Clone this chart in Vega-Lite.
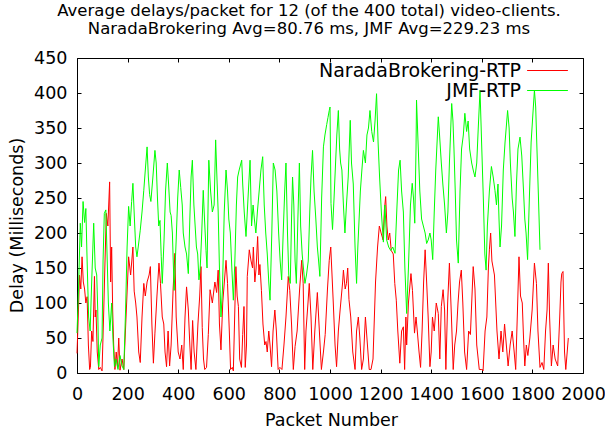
{
  "$schema": "https://vega.github.io/schema/vega-lite/v6.json",
  "width": 506,
  "height": 315,
  "autosize": {"type": "none"},
  "padding": {"left": 77, "top": 58, "right": 22, "bottom": 56},
  "background": "white",
  "title": {
    "text": ["Average delays/packet for 12 (of the 400 total) video-clients.", "NaradaBrokering Avg=80.76 ms, JMF Avg=229.23 ms"],
    "font": "DejaVu Sans",
    "fontSize": 16.5,
    "fontWeight": "normal",
    "color": "black",
    "lineHeight": 18,
    "anchor": "middle",
    "frame": "group",
    "baseline": "bottom",
    "offset": 21,
    "dx": -21,
    "dy": 25
  },
  "config": {
    "view": {"stroke": "black", "strokeWidth": 1},
    "axis": {
      "grid": false,
      "domain": false,
      "tickColor": "black",
      "tickWidth": 1,
      "tickSize": -4,
      "labelFont": "DejaVu Sans",
      "labelFontSize": 17.5,
      "labelColor": "black",
      "titleFont": "DejaVu Sans",
      "titleFontSize": 17.5,
      "titleFontWeight": "normal",
      "titleColor": "black"
    }
  },
  "datasets": {
    "narada": [
      {"packet":0,"delay":28},{"packet":5,"delay":80},{"packet":10,"delay":140},{"packet":15,"delay":120},{"packet":20,"delay":166},{"packet":25,"delay":130},{"packet":30,"delay":120},{"packet":35,"delay":100},{"packet":40,"delay":109},{"packet":45,"delay":40},{"packet":50,"delay":5},{"packet":53,"delay":8},{"packet":58,"delay":60},{"packet":63,"delay":45},{"packet":69,"delay":138},{"packet":72,"delay":80},{"packet":75,"delay":90},{"packet":80,"delay":30},{"packet":86,"delay":5},{"packet":92,"delay":8},{"packet":99,"delay":3},{"packet":105,"delay":80},{"packet":110,"delay":150},{"packet":116,"delay":228},{"packet":122,"delay":210},{"packet":129,"delay":273},{"packet":133,"delay":130},{"packet":137,"delay":180},{"packet":141,"delay":90},{"packet":145,"delay":40},{"packet":150,"delay":5},{"packet":155,"delay":30},{"packet":160,"delay":8},{"packet":165,"delay":50},{"packet":170,"delay":4},{"packet":178,"delay":20},{"packet":185,"delay":5},{"packet":195,"delay":90},{"packet":204,"delay":166},{"packet":212,"delay":140},{"packet":221,"delay":180},{"packet":226,"delay":117},{"packet":232,"delay":100},{"packet":237,"delay":80},{"packet":244,"delay":30},{"packet":250,"delay":15},{"packet":257,"delay":80},{"packet":264,"delay":128},{"packet":270,"delay":110},{"packet":277,"delay":130},{"packet":285,"delay":140},{"packet":290,"delay":152},{"packet":296,"delay":70},{"packet":302,"delay":14},{"packet":308,"delay":57},{"packet":316,"delay":110},{"packet":324,"delay":157},{"packet":330,"delay":128},{"packet":337,"delay":80},{"packet":343,"delay":70},{"packet":348,"delay":30},{"packet":354,"delay":9},{"packet":360,"delay":60},{"packet":366,"delay":10},{"packet":372,"delay":40},{"packet":380,"delay":120},{"packet":387,"delay":171},{"packet":392,"delay":80},{"packet":400,"delay":30},{"packet":407,"delay":20},{"packet":414,"delay":40},{"packet":420,"delay":5},{"packet":427,"delay":80},{"packet":433,"delay":123},{"packet":440,"delay":90},{"packet":446,"delay":40},{"packet":451,"delay":5},{"packet":457,"delay":75},{"packet":463,"delay":30},{"packet":470,"delay":5},{"packet":478,"delay":70},{"packet":485,"delay":110},{"packet":490,"delay":152},{"packet":495,"delay":65},{"packet":500,"delay":20},{"packet":505,"delay":5},{"packet":512,"delay":8},{"packet":519,"delay":55},{"packet":526,"delay":119},{"packet":535,"delay":100},{"packet":545,"delay":130},{"packet":552,"delay":115},{"packet":558,"delay":147},{"packet":563,"delay":70},{"packet":569,"delay":33},{"packet":576,"delay":100},{"packet":589,"delay":161},{"packet":595,"delay":128},{"packet":602,"delay":60},{"packet":607,"delay":5},{"packet":614,"delay":8},{"packet":618,"delay":3},{"packet":628,"delay":152},{"packet":633,"delay":110},{"packet":638,"delay":95},{"packet":643,"delay":20},{"packet":650,"delay":8},{"packet":655,"delay":55},{"packet":660,"delay":95},{"packet":665,"delay":8},{"packet":670,"delay":40},{"packet":673,"delay":138},{"packet":681,"delay":176},{"packet":688,"delay":160},{"packet":694,"delay":150},{"packet":697,"delay":180},{"packet":703,"delay":130},{"packet":708,"delay":150},{"packet":714,"delay":195},{"packet":719,"delay":140},{"packet":723,"delay":155},{"packet":729,"delay":118},{"packet":735,"delay":70},{"packet":742,"delay":40},{"packet":747,"delay":45},{"packet":752,"delay":30},{"packet":758,"delay":60},{"packet":763,"delay":40},{"packet":769,"delay":9},{"packet":775,"delay":60},{"packet":782,"delay":90},{"packet":788,"delay":60},{"packet":795,"delay":5},{"packet":802,"delay":8},{"packet":810,"delay":5},{"packet":818,"delay":40},{"packet":826,"delay":80},{"packet":835,"delay":138},{"packet":841,"delay":118},{"packet":848,"delay":70},{"packet":855,"delay":5},{"packet":862,"delay":38},{"packet":870,"delay":60},{"packet":880,"delay":120},{"packet":888,"delay":161},{"packet":894,"delay":128},{"packet":900,"delay":5},{"packet":905,"delay":60},{"packet":913,"delay":100},{"packet":918,"delay":128},{"packet":925,"delay":80},{"packet":932,"delay":5},{"packet":940,"delay":60},{"packet":950,"delay":115},{"packet":958,"delay":60},{"packet":966,"delay":5},{"packet":974,"delay":30},{"packet":981,"delay":55},{"packet":990,"delay":120},{"packet":997,"delay":161},{"packet":1003,"delay":180},{"packet":1008,"delay":140},{"packet":1013,"delay":100},{"packet":1020,"delay":40},{"packet":1026,"delay":9},{"packet":1033,"delay":60},{"packet":1040,"delay":90},{"packet":1050,"delay":130},{"packet":1053,"delay":147},{"packet":1060,"delay":120},{"packet":1065,"delay":128},{"packet":1070,"delay":150},{"packet":1075,"delay":105},{"packet":1082,"delay":80},{"packet":1090,"delay":30},{"packet":1099,"delay":5},{"packet":1105,"delay":60},{"packet":1112,"delay":80},{"packet":1118,"delay":50},{"packet":1125,"delay":5},{"packet":1132,"delay":20},{"packet":1140,"delay":80},{"packet":1148,"delay":40},{"packet":1155,"delay":5},{"packet":1162,"delay":5},{"packet":1170,"delay":20},{"packet":1180,"delay":130},{"packet":1188,"delay":180},{"packet":1195,"delay":210},{"packet":1202,"delay":200},{"packet":1210,"delay":190},{"packet":1215,"delay":233},{"packet":1220,"delay":252},{"packet":1225,"delay":210},{"packet":1230,"delay":190},{"packet":1236,"delay":200},{"packet":1242,"delay":175},{"packet":1250,"delay":170},{"packet":1256,"delay":128},{"packet":1262,"delay":104},{"packet":1268,"delay":60},{"packet":1276,"delay":14},{"packet":1283,"delay":60},{"packet":1290,"delay":66},{"packet":1295,"delay":5},{"packet":1300,"delay":80},{"packet":1303,"delay":40},{"packet":1310,"delay":100},{"packet":1320,"delay":142},{"packet":1326,"delay":118},{"packet":1334,"delay":57},{"packet":1340,"delay":80},{"packet":1345,"delay":60},{"packet":1352,"delay":30},{"packet":1358,"delay":8},{"packet":1364,"delay":60},{"packet":1370,"delay":130},{"packet":1376,"delay":176},{"packet":1382,"delay":130},{"packet":1388,"delay":80},{"packet":1395,"delay":9},{"packet":1400,"delay":30},{"packet":1405,"delay":80},{"packet":1412,"delay":60},{"packet":1420,"delay":100},{"packet":1428,"delay":85},{"packet":1434,"delay":20},{"packet":1440,"delay":95},{"packet":1447,"delay":119},{"packet":1453,"delay":90},{"packet":1458,"delay":5},{"packet":1465,"delay":100},{"packet":1472,"delay":157},{"packet":1480,"delay":80},{"packet":1487,"delay":5},{"packet":1493,"delay":40},{"packet":1500,"delay":60},{"packet":1506,"delay":100},{"packet":1512,"delay":130},{"packet":1519,"delay":147},{"packet":1525,"delay":100},{"packet":1532,"delay":30},{"packet":1540,"delay":5},{"packet":1548,"delay":60},{"packet":1555,"delay":55},{"packet":1566,"delay":152},{"packet":1573,"delay":120},{"packet":1580,"delay":40},{"packet":1590,"delay":5},{"packet":1600,"delay":5},{"packet":1605,"delay":3},{"packet":1613,"delay":60},{"packet":1620,"delay":80},{"packet":1626,"delay":150},{"packet":1630,"delay":176},{"packet":1635,"delay":200},{"packet":1640,"delay":160},{"packet":1650,"delay":140},{"packet":1660,"delay":60},{"packet":1668,"delay":20},{"packet":1676,"delay":60},{"packet":1683,"delay":30},{"packet":1690,"delay":70},{"packet":1697,"delay":40},{"packet":1704,"delay":10},{"packet":1712,"delay":40},{"packet":1720,"delay":60},{"packet":1728,"delay":30},{"packet":1734,"delay":5},{"packet":1741,"delay":90},{"packet":1747,"delay":166},{"packet":1753,"delay":110},{"packet":1760,"delay":100},{"packet":1765,"delay":50},{"packet":1770,"delay":10},{"packet":1776,"delay":40},{"packet":1782,"delay":25},{"packet":1790,"delay":50},{"packet":1799,"delay":90},{"packet":1808,"delay":157},{"packet":1816,"delay":128},{"packet":1822,"delay":60},{"packet":1830,"delay":8},{"packet":1838,"delay":15},{"packet":1845,"delay":5},{"packet":1852,"delay":60},{"packet":1858,"delay":90},{"packet":1863,"delay":157},{"packet":1868,"delay":80},{"packet":1875,"delay":10},{"packet":1882,"delay":40},{"packet":1890,"delay":20},{"packet":1900,"delay":10},{"packet":1908,"delay":80},{"packet":1913,"delay":130},{"packet":1916,"delay":142},{"packet":1921,"delay":145},{"packet":1927,"delay":30},{"packet":1932,"delay":5},{"packet":1942,"delay":50}
    ],
    "jmf": [
      {"packet":0,"delay":57},{"packet":6,"delay":120},{"packet":13,"delay":214},{"packet":18,"delay":180},{"packet":24,"delay":245},{"packet":30,"delay":215},{"packet":35,"delay":235},{"packet":40,"delay":160},{"packet":46,"delay":80},{"packet":52,"delay":60},{"packet":58,"delay":130},{"packet":66,"delay":214},{"packet":72,"delay":150},{"packet":78,"delay":140},{"packet":82,"delay":90},{"packet":86,"delay":9},{"packet":92,"delay":40},{"packet":99,"delay":50},{"packet":103,"delay":160},{"packet":108,"delay":228},{"packet":114,"delay":233},{"packet":118,"delay":180},{"packet":124,"delay":100},{"packet":130,"delay":60},{"packet":137,"delay":100},{"packet":142,"delay":50},{"packet":148,"delay":9},{"packet":155,"delay":20},{"packet":162,"delay":5},{"packet":170,"delay":25},{"packet":178,"delay":10},{"packet":185,"delay":5},{"packet":192,"delay":90},{"packet":198,"delay":180},{"packet":204,"delay":238},{"packet":210,"delay":210},{"packet":216,"delay":245},{"packet":221,"delay":271},{"packet":227,"delay":220},{"packet":232,"delay":180},{"packet":237,"delay":166},{"packet":242,"delay":180},{"packet":250,"delay":204},{"packet":257,"delay":230},{"packet":264,"delay":261},{"packet":270,"delay":290},{"packet":277,"delay":323},{"packet":282,"delay":280},{"packet":287,"delay":255},{"packet":292,"delay":245},{"packet":300,"delay":280},{"packet":308,"delay":318},{"packet":313,"delay":300},{"packet":318,"delay":250},{"packet":323,"delay":210},{"packet":328,"delay":218},{"packet":333,"delay":166},{"packet":337,"delay":128},{"packet":344,"delay":190},{"packet":350,"delay":260},{"packet":357,"delay":300},{"packet":362,"delay":270},{"packet":368,"delay":230},{"packet":372,"delay":225},{"packet":377,"delay":200},{"packet":384,"delay":118},{"packet":392,"delay":190},{"packet":398,"delay":250},{"packet":404,"delay":290},{"packet":410,"delay":265},{"packet":416,"delay":240},{"packet":420,"delay":200},{"packet":427,"delay":180},{"packet":433,"delay":170},{"packet":440,"delay":142},{"packet":446,"delay":220},{"packet":451,"delay":280},{"packet":456,"delay":304},{"packet":462,"delay":240},{"packet":467,"delay":210},{"packet":472,"delay":180},{"packet":477,"delay":170},{"packet":482,"delay":133},{"packet":487,"delay":150},{"packet":493,"delay":200},{"packet":499,"delay":261},{"packet":504,"delay":220},{"packet":510,"delay":175},{"packet":514,"delay":150},{"packet":521,"delay":304},{"packet":528,"delay":260},{"packet":535,"delay":230},{"packet":542,"delay":240},{"packet":548,"delay":333},{"packet":553,"delay":280},{"packet":558,"delay":230},{"packet":563,"delay":150},{"packet":569,"delay":80},{"packet":575,"delay":120},{"packet":582,"delay":230},{"packet":589,"delay":290},{"packet":595,"delay":260},{"packet":600,"delay":220},{"packet":606,"delay":200},{"packet":612,"delay":150},{"packet":618,"delay":104},{"packet":624,"delay":160},{"packet":630,"delay":240},{"packet":635,"delay":280},{"packet":641,"delay":290},{"packet":651,"delay":304},{"packet":655,"delay":270},{"packet":661,"delay":230},{"packet":668,"delay":195},{"packet":676,"delay":250},{"packet":684,"delay":304},{"packet":690,"delay":210},{"packet":696,"delay":240},{"packet":701,"delay":220},{"packet":707,"delay":200},{"packet":713,"delay":230},{"packet":720,"delay":260},{"packet":727,"delay":290},{"packet":734,"delay":309},{"packet":740,"delay":240},{"packet":746,"delay":200},{"packet":752,"delay":170},{"packet":758,"delay":130},{"packet":763,"delay":104},{"packet":770,"delay":200},{"packet":776,"delay":300},{"packet":783,"delay":290},{"packet":790,"delay":260},{"packet":797,"delay":200},{"packet":803,"delay":160},{"packet":809,"delay":133},{"packet":815,"delay":200},{"packet":821,"delay":260},{"packet":826,"delay":300},{"packet":832,"delay":200},{"packet":837,"delay":140},{"packet":843,"delay":128},{"packet":848,"delay":220},{"packet":852,"delay":280},{"packet":857,"delay":240},{"packet":862,"delay":160},{"packet":867,"delay":128},{"packet":873,"delay":220},{"packet":879,"delay":300},{"packet":884,"delay":210},{"packet":890,"delay":170},{"packet":895,"delay":150},{"packet":901,"delay":128},{"packet":907,"delay":140},{"packet":914,"delay":160},{"packet":920,"delay":230},{"packet":925,"delay":280},{"packet":931,"delay":318},{"packet":937,"delay":260},{"packet":944,"delay":220},{"packet":950,"delay":180},{"packet":955,"delay":160},{"packet":960,"delay":138},{"packet":967,"delay":250},{"packet":974,"delay":323},{"packet":980,"delay":340},{"packet":987,"delay":355},{"packet":992,"delay":365},{"packet":997,"delay":375},{"packet":1000,"delay":380},{"packet":1004,"delay":242},{"packet":1010,"delay":205},{"packet":1016,"delay":250},{"packet":1022,"delay":300},{"packet":1027,"delay":340},{"packet":1033,"delay":375},{"packet":1038,"delay":320},{"packet":1042,"delay":300},{"packet":1047,"delay":290},{"packet":1053,"delay":240},{"packet":1059,"delay":200},{"packet":1065,"delay":240},{"packet":1072,"delay":280},{"packet":1080,"delay":361},{"packet":1085,"delay":300},{"packet":1092,"delay":270},{"packet":1099,"delay":180},{"packet":1105,"delay":128},{"packet":1110,"delay":180},{"packet":1115,"delay":220},{"packet":1120,"delay":260},{"packet":1126,"delay":290},{"packet":1132,"delay":318},{"packet":1140,"delay":300},{"packet":1146,"delay":340},{"packet":1152,"delay":350},{"packet":1158,"delay":375},{"packet":1165,"delay":345},{"packet":1172,"delay":330},{"packet":1178,"delay":360},{"packet":1184,"delay":399},{"packet":1190,"delay":330},{"packet":1196,"delay":280},{"packet":1203,"delay":230},{"packet":1211,"delay":187},{"packet":1217,"delay":240},{"packet":1224,"delay":190},{"packet":1232,"delay":180},{"packet":1240,"delay":175},{"packet":1248,"delay":180},{"packet":1257,"delay":171},{"packet":1265,"delay":240},{"packet":1271,"delay":290},{"packet":1277,"delay":304},{"packet":1283,"delay":260},{"packet":1290,"delay":230},{"packet":1296,"delay":150},{"packet":1303,"delay":85},{"packet":1310,"delay":150},{"packet":1318,"delay":240},{"packet":1325,"delay":271},{"packet":1330,"delay":250},{"packet":1335,"delay":214},{"packet":1340,"delay":320},{"packet":1342,"delay":390},{"packet":1348,"delay":330},{"packet":1355,"delay":260},{"packet":1362,"delay":220},{"packet":1369,"delay":210},{"packet":1376,"delay":200},{"packet":1382,"delay":185},{"packet":1388,"delay":190},{"packet":1395,"delay":200},{"packet":1400,"delay":190},{"packet":1406,"delay":162},{"packet":1412,"delay":230},{"packet":1418,"delay":290},{"packet":1428,"delay":366},{"packet":1433,"delay":340},{"packet":1440,"delay":300},{"packet":1446,"delay":270},{"packet":1453,"delay":240},{"packet":1460,"delay":200},{"packet":1466,"delay":230},{"packet":1472,"delay":300},{"packet":1481,"delay":385},{"packet":1486,"delay":360},{"packet":1490,"delay":320},{"packet":1495,"delay":260},{"packet":1500,"delay":190},{"packet":1507,"delay":157},{"packet":1514,"delay":260},{"packet":1520,"delay":320},{"packet":1527,"delay":340},{"packet":1533,"delay":371},{"packet":1540,"delay":345},{"packet":1546,"delay":360},{"packet":1552,"delay":320},{"packet":1560,"delay":300},{"packet":1566,"delay":290},{"packet":1573,"delay":280},{"packet":1580,"delay":300},{"packet":1586,"delay":350},{"packet":1593,"delay":404},{"packet":1600,"delay":320},{"packet":1606,"delay":250},{"packet":1612,"delay":170},{"packet":1617,"delay":147},{"packet":1622,"delay":210},{"packet":1630,"delay":260},{"packet":1638,"delay":295},{"packet":1645,"delay":280},{"packet":1652,"delay":261},{"packet":1658,"delay":240},{"packet":1664,"delay":270},{"packet":1668,"delay":220},{"packet":1672,"delay":180},{"packet":1678,"delay":210},{"packet":1685,"delay":290},{"packet":1692,"delay":330},{"packet":1702,"delay":375},{"packet":1708,"delay":350},{"packet":1713,"delay":300},{"packet":1720,"delay":250},{"packet":1725,"delay":230},{"packet":1731,"delay":195},{"packet":1737,"delay":270},{"packet":1743,"delay":320},{"packet":1751,"delay":337},{"packet":1758,"delay":310},{"packet":1765,"delay":260},{"packet":1770,"delay":220},{"packet":1775,"delay":200},{"packet":1781,"delay":162},{"packet":1788,"delay":250},{"packet":1795,"delay":330},{"packet":1802,"delay":370},{"packet":1808,"delay":404},{"packet":1813,"delay":380},{"packet":1818,"delay":320},{"packet":1824,"delay":250},{"packet":1830,"delay":176}
    ]
  },
  "layer": [
    {
      "data": {"name": "narada"},
      "mark": {"type": "line", "strokeWidth": 1, "interpolate": "linear"},
      "encoding": {
        "x": {
          "field": "packet", "type": "quantitative",
          "scale": {"domain": [0, 2000], "nice": false, "zero": false},
          "axis": {"orient": "bottom", "values": [0,200,400,600,800,1000,1200,1400,1600,1800,2000], "format": "d", "labelPadding": 30, "labelBaseline": "alphabetic", "labelFlush": false, "labelOverlap": false, "title": "Packet Number", "titleX": 254, "titleY": 52, "titleBaseline": "alphabetic", "titleAlign": "center"}
        },
        "y": {
          "field": "delay", "type": "quantitative",
          "scale": {"domain": [0, 450], "nice": false},
          "axis": {"orient": "left", "values": [0,50,100,150,200,250,300,350,400,450], "format": "d", "labelPadding": 14, "labelBaseline": "middle", "labelFlush": false, "labelOverlap": false, "title": "Delay (Milliseconds)", "titleX": -60, "titleY": 167, "titleAngle": 270, "titleBaseline": "middle", "titleAlign": "center"}
        },
        "color": {
          "datum": "NaradaBrokering-RTP",
          "type": "nominal",
          "scale": {"domain": ["NaradaBrokering-RTP", "JMF-RTP"], "range": ["#ff0000", "#00ff00"]},
          "legend": {
            "title": null,
            "orient": "none",
            "legendX": 461,
            "legendY": 3,
            "padding": 0,
            "rowPadding": -2,
            "symbolType": "M-3.4,0H3.4",
            "symbolSize": 144,
            "symbolStrokeWidth": 1,
            "labelFont": "DejaVu Sans",
            "labelFontSize": 19,
            "labelColor": "black",
            "labelAlign": "right",
            "labelOffset": -36,
            "labelLimit": 400
          }
        }
      }
    },
    {
      "data": {"name": "jmf"},
      "mark": {"type": "line", "strokeWidth": 1, "interpolate": "linear"},
      "encoding": {
        "x": {
          "field": "packet", "type": "quantitative",
          "axis": {"orient": "top", "values": [0,200,400,600,800,1000,1200,1400,1600,1800,2000], "labels": false, "title": null}
        },
        "y": {
          "field": "delay", "type": "quantitative",
          "axis": {"orient": "right", "values": [0,50,100,150,200,250,300,350,400,450], "labels": false, "title": null}
        },
        "color": {"datum": "JMF-RTP", "type": "nominal"}
      }
    }
  ],
  "resolve": {"axis": {"x": "independent", "y": "independent"}}
}
